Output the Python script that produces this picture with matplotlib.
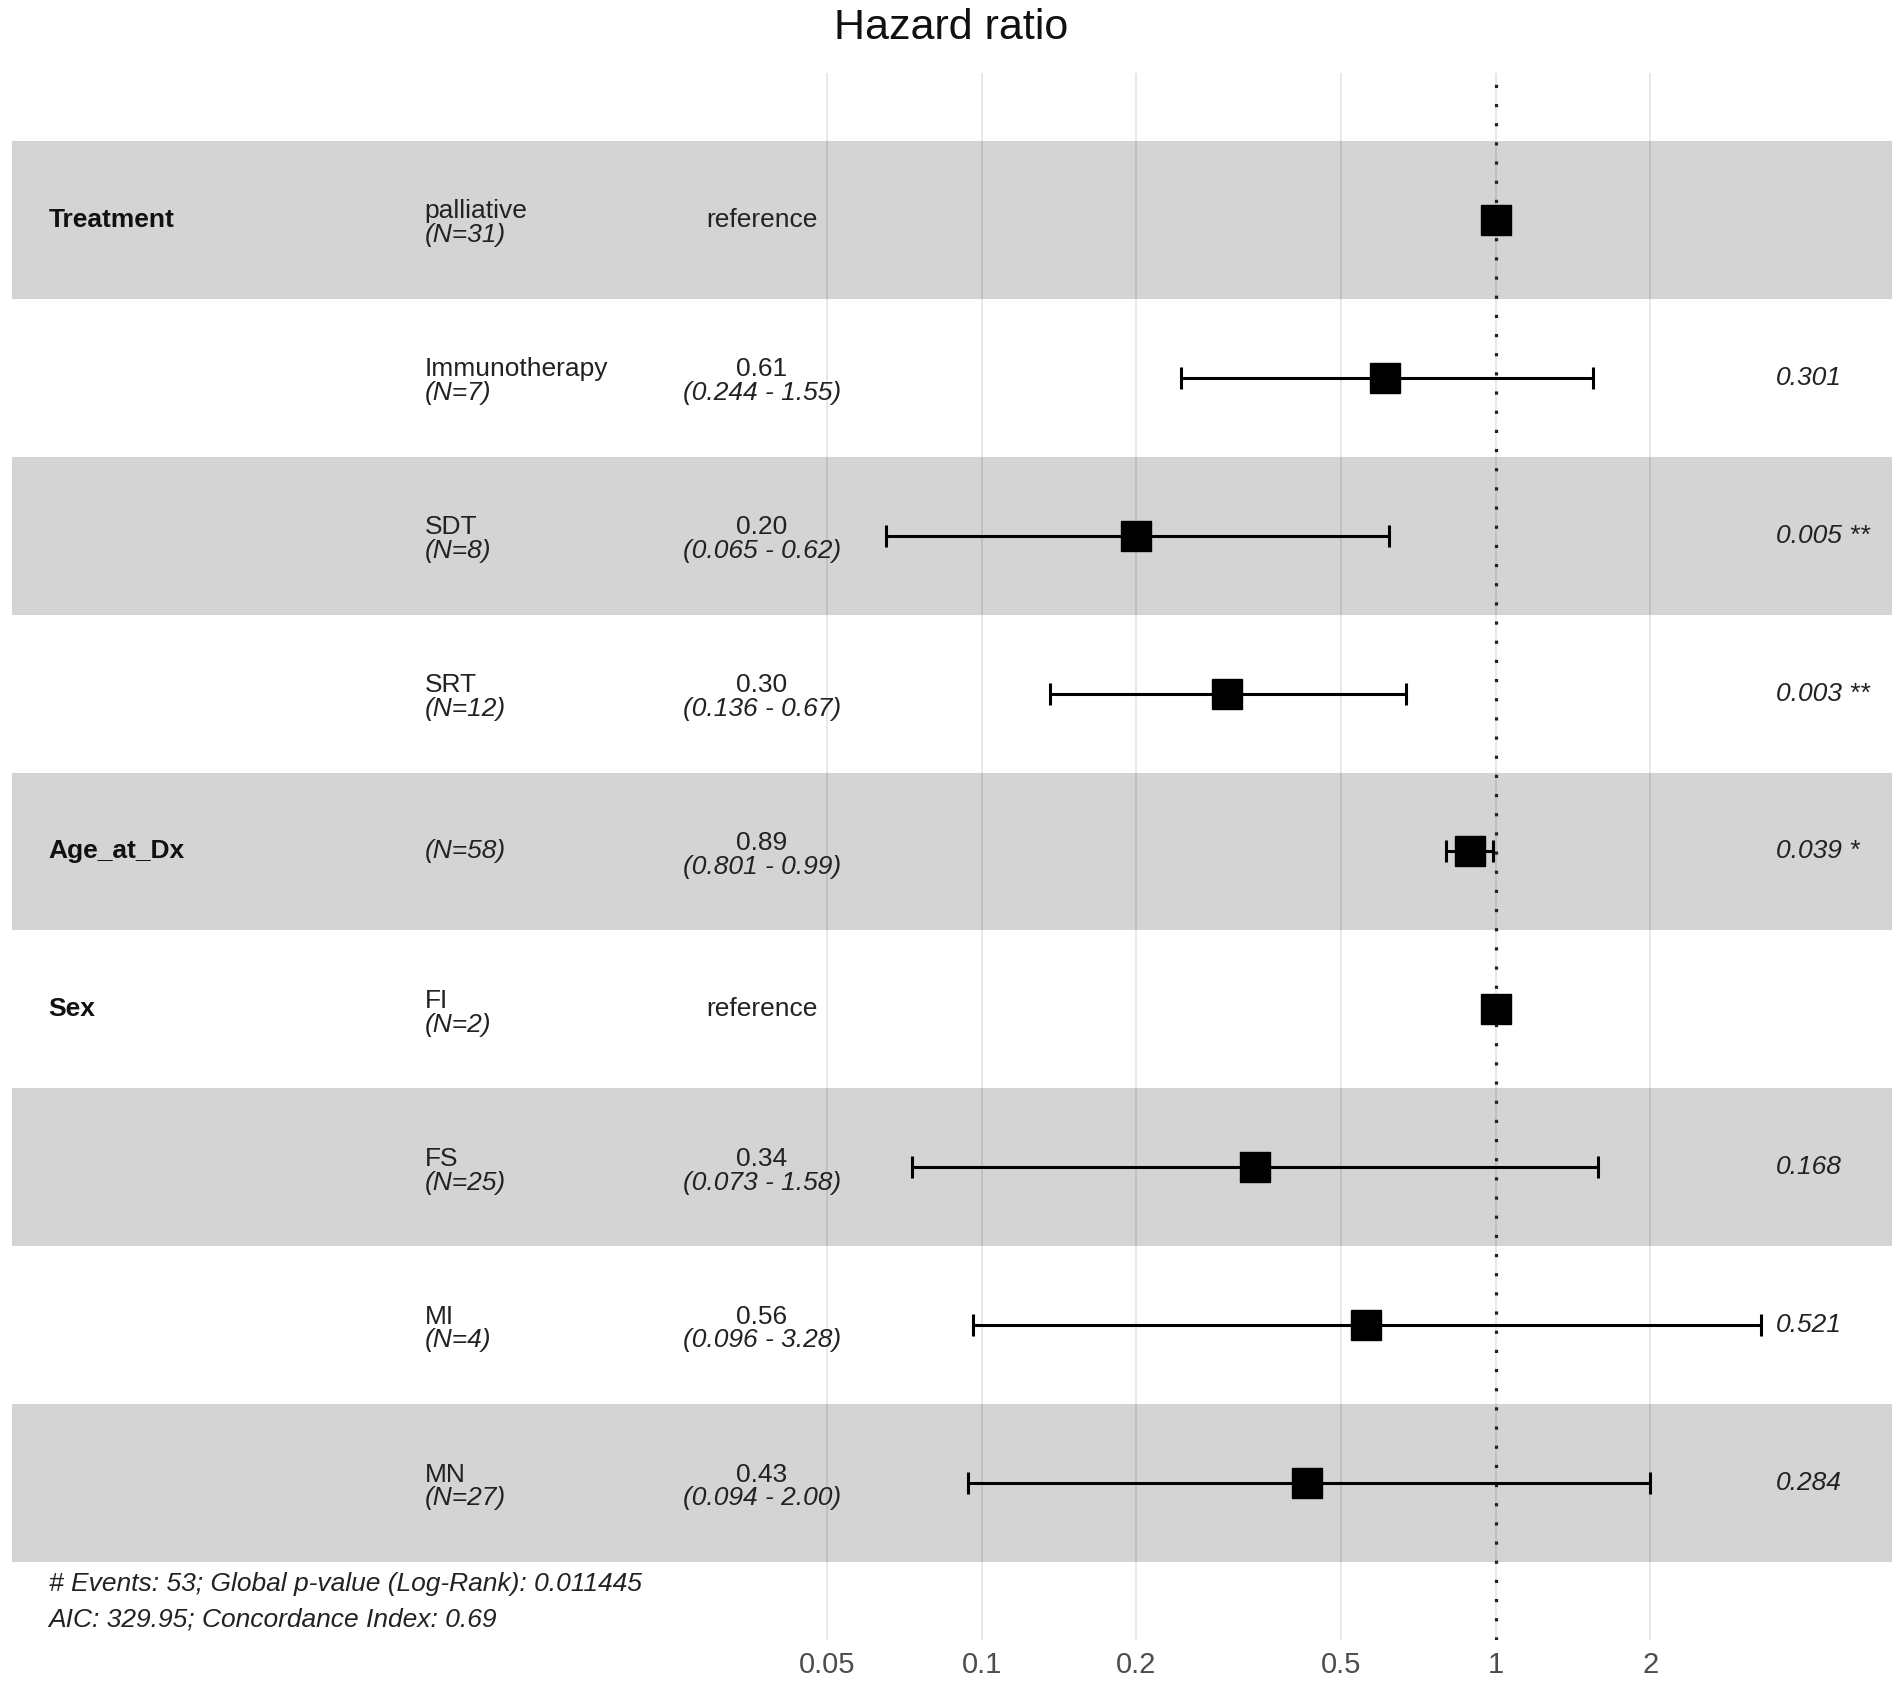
import numpy as np
import matplotlib
matplotlib.use('Agg')
import matplotlib.pyplot as plt
import matplotlib.transforms as mtransforms

plt.rcParams['font.family'] = ['Liberation Sans', 'DejaVu Sans']

# data
variables = ['Treatment', '', '', '', 'Age_at_Dx', 'Sex', '', '', '']
levels = ['palliative', 'Immunotherapy', 'SDT', 'SRT', '', 'FI', 'FS', 'MI', 'MN']
n_obs = [31, 7, 8, 12, 58, 2, 25, 4, 27]
hr = [1.0, 0.61, 0.20, 0.30, 0.89, 1.0, 0.34, 0.56, 0.43]
ci_low = [np.nan, 0.244, 0.065, 0.136, 0.801, np.nan, 0.073, 0.096, 0.094]
ci_high = [np.nan, 1.55, 0.62, 0.67, 0.99, np.nan, 1.58, 3.28, 2.00]
is_ref = [True, False, False, False, False, True, False, False, False]
pvals = ['', '0.301', '0.005 **', '0.003 **', '0.039 *', '', '0.168', '0.521', '0.284']
ci_labels = ['', '(0.244 - 1.55)', '(0.065 - 0.62)', '(0.136 - 0.67)', '(0.801 - 0.99)',
             '', '(0.073 - 1.58)', '(0.096 - 3.28)', '(0.094 - 2.00)']
hr_labels = ['', '0.61', '0.20', '0.30', '0.89', '', '0.34', '0.56', '0.43']
x_ticks = [0.05, 0.1, 0.2, 0.5, 1, 2]
x_ticklabels = ['0.05', '0.1', '0.2', '0.5', '1', '2']
footnote = ['# Events: 53; Global p-value (Log-Rank): 0.011445',
            'AIC: 329.95; Concordance Index: 0.69']

fig = plt.figure(figsize=(19.02, 16.82), dpi=100)
ax = fig.add_axes([0.0064, 0.0252, 0.9885, 0.9315])
ax.set_xscale('log')
ax.set_xlim(10 ** -2.887, 10 ** 0.772)
ax.set_ylim(8.99, -0.93)

rows = np.arange(len(hr))

# grid lines
for t in x_ticks:
    ax.axvline(t, color='#e6e6e6', lw=1.3, zorder=0)

# alternating bands
for r in rows:
    if r % 2 == 0:
        ax.axhspan(r - 0.5, r + 0.5, xmin=0, xmax=1, color='black', alpha=0.17, lw=0, zorder=1)

ax.axvline(1, color='#222222', lw=2.3, linestyle=(0, (1, 5)), zorder=2)

# error bars and points
for r in rows:
    if not is_ref[r]:
        ax.errorbar(hr[r], r, xerr=[[hr[r] - ci_low[r]], [ci_high[r] - hr[r]]],
                    fmt='none', ecolor='black', elinewidth=2.2, capsize=8, capthick=2.2, zorder=3)
ax.plot(hr, rows, 's', color='black', markersize=22, zorder=4)

tr = mtransforms.blended_transform_factory(ax.transAxes, ax.transData)
fs = 19
for r in rows:
    if variables[r]:
        ax.text(0.0194, r, variables[r], transform=tr, ha='left', va='center',
                fontsize=fs, fontweight='bold', color='#111111')
    if levels[r]:
        ax.text(0.2194, r - 0.01, levels[r], transform=tr, ha='left', va='baseline',
                fontsize=fs, color='#222222')
        ax.text(0.2194, r + 0.02, '(N=%d)' % n_obs[r], transform=tr, ha='left', va='top',
                fontsize=fs, style='italic', color='#222222')
    else:
        ax.text(0.2194, r, '(N=%d)' % n_obs[r], transform=tr, ha='left', va='center',
                fontsize=fs, style='italic', color='#222222')
    if is_ref[r]:
        ax.text(0.3987, r, 'reference', transform=tr, ha='center', va='center',
                fontsize=fs, color='#222222')
    else:
        ax.text(0.3987, r - 0.01, hr_labels[r], transform=tr, ha='center', va='baseline',
                fontsize=fs, color='#222222')
        ax.text(0.3987, r + 0.02, ci_labels[r], transform=tr, ha='center', va='top',
                fontsize=fs, style='italic', color='#222222')
        ax.text(0.938, r, pvals[r], transform=tr, ha='left', va='center',
                fontsize=fs, style='italic', color='#222222')

ax.text(0.0194, 8.64, footnote[0], transform=tr, ha='left', va='center',
        fontsize=19, style='italic', color='#222222')
ax.text(0.0194, 8.865, footnote[1], transform=tr, ha='left', va='center',
        fontsize=19, style='italic', color='#222222')

ax.set_xticks(x_ticks)
ax.set_xticklabels(x_ticklabels)
ax.xaxis.set_minor_locator(matplotlib.ticker.NullLocator())
ax.tick_params(axis='x', length=0, pad=8, labelsize=21, labelcolor='#4d4d4d')
ax.set_yticks([])
for s in ax.spines.values():
    s.set_visible(False)

fig.text(0.5, 0.995, 'Hazard ratio', ha='center', va='top', fontsize=31, color='#111111')

fig.savefig('out.png', dpi=100)
